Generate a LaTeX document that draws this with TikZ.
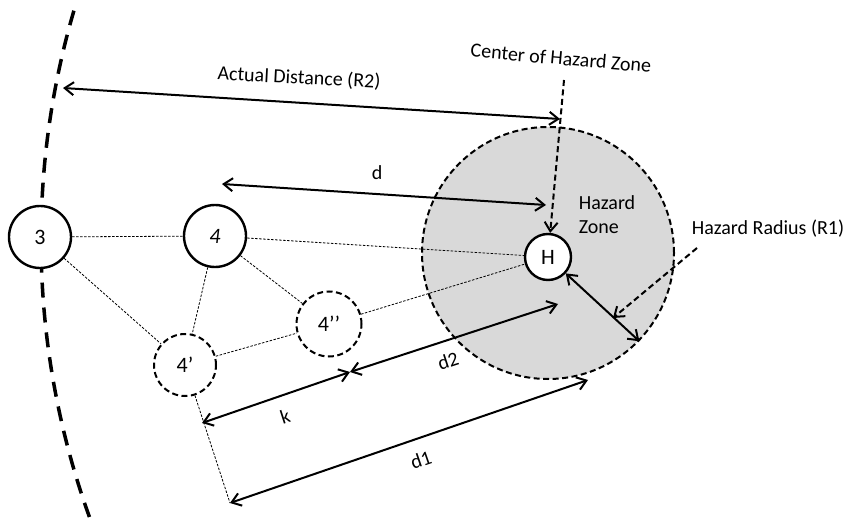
\documentclass[tikz,border=0pt]{standalone}
\usepackage{fontspec}
\setmainfont{Carlito}
\usetikzlibrary{arrows.meta}

\begin{document}
\begin{tikzpicture}[x=1pt, y=-1pt,
every node/.style={font=\fontsize{20}{24}\selectfont, align=center},
station/.style={circle, draw, line width=2.4pt, fill=white, minimum size=62pt, inner sep=0pt},
ghost/.style={circle, draw, line width=2pt, dash pattern=on 6pt off 3.5pt, fill=white, minimum size=62pt, inner sep=0pt},
link/.style={line width=0.8pt, dash pattern=on 2.5pt off 1.5pt},
measure/.style={line width=2pt, {Straight Barb[length=9pt,width=13pt]}-{Straight Barb[length=9pt,width=13pt]}},
pointer/.style={line width=2pt, dash pattern=on 6pt off 3.5pt, -{Straight Barb[length=9pt,width=13pt]}}
]

\useasboundingbox (0,0) rectangle (851,529);

% Hazard zone
\node[
circle,
draw,
fill=black!15,
line width=2pt,
dash pattern=on 6pt off 3.5pt,
minimum size=252pt,
inner sep=0pt
] (zone) at (548,253) {};

% Boundary
\draw[line width=3.5pt, dash pattern=on 15pt off 10pt]
(858,240) ++(163.7:817pt) arc[start angle=163.7, end angle=200.3, radius=817pt];

% Free ends
\coordinate (rtwoL) at (63,88);
\coordinate (rtwoR) at (560,119);
\coordinate (dL) at (222,184);
\coordinate (dR) at (546,205);
\coordinate (chz) at (564,80);
\coordinate (hrs) at (697,248);
\coordinate (hre) at (613,318);
\coordinate (kL) at (202,423);
\coordinate (mid) at (350,372);
\coordinate (dtwoR) at (558,304);
\coordinate (corner) at (230,503);
\coordinate (doneR) at (588,380);

% Nodes
\node[station] (n3) at (40,237) {\fontsize{22}{24}\selectfont 3};
\node[station] (n4) at (215,236) {\fontsize{22}{24}\selectfont\textit{4}};
\node[ghost] (n4a) at (185,365) {\fontsize{22}{24}\selectfont 4’};
\node[ghost, minimum size=65pt] (n4b) at (329,324) {\fontsize{22}{24}\selectfont 4’’};
\node[station, minimum size=46pt] (H) at (548,257) {\fontsize{22}{24}\selectfont H};

% Links
\draw[link] (n3) -- (n4);
\draw[link] (n3) -- (n4a);
\draw[link] (n4) -- (H);
\draw[link] (n4) -- (n4b);
\draw[link] (n4) -- (n4a);
\draw[link] (n4a) -- (n4b);
\draw[link] (n4b) -- (H);
\draw[link] (n4a) -- (corner);

% Distances
\draw[measure] (rtwoL) -- (rtwoR);
\draw[measure] (dL) -- (dR);
\draw[measure] (kL) -- (mid);
\draw[measure] (mid) -- (dtwoR);
\draw[measure] (corner) -- (doneR);
\draw[measure] (H) -- (zone.-44);

% Pointers
\draw[pointer] (chz) -- (H);
\draw[pointer] (hrs) -- (hre);

% Labels
\node[rotate=-3] (lblRtwo) at (299,78) {Actual Distance (R2)};
\node[rotate=-5] (lblCenter) at (561,58) {Center of Hazard Zone};
\node (lblD) at (377,173) {d};
\node[align=left] (lblZone) at (607,215) {Hazard\\Zone};
\node (lblRone) at (768,229) {Hazard Radius (R1)};
\node[rotate=18] (lblK) at (285,416) {k};
\node[rotate=18] (lblDtwo) at (448,361) {d2};
\node[rotate=19] (lblDone) at (421,460) {d1};

\end{tikzpicture}
\end{document}
